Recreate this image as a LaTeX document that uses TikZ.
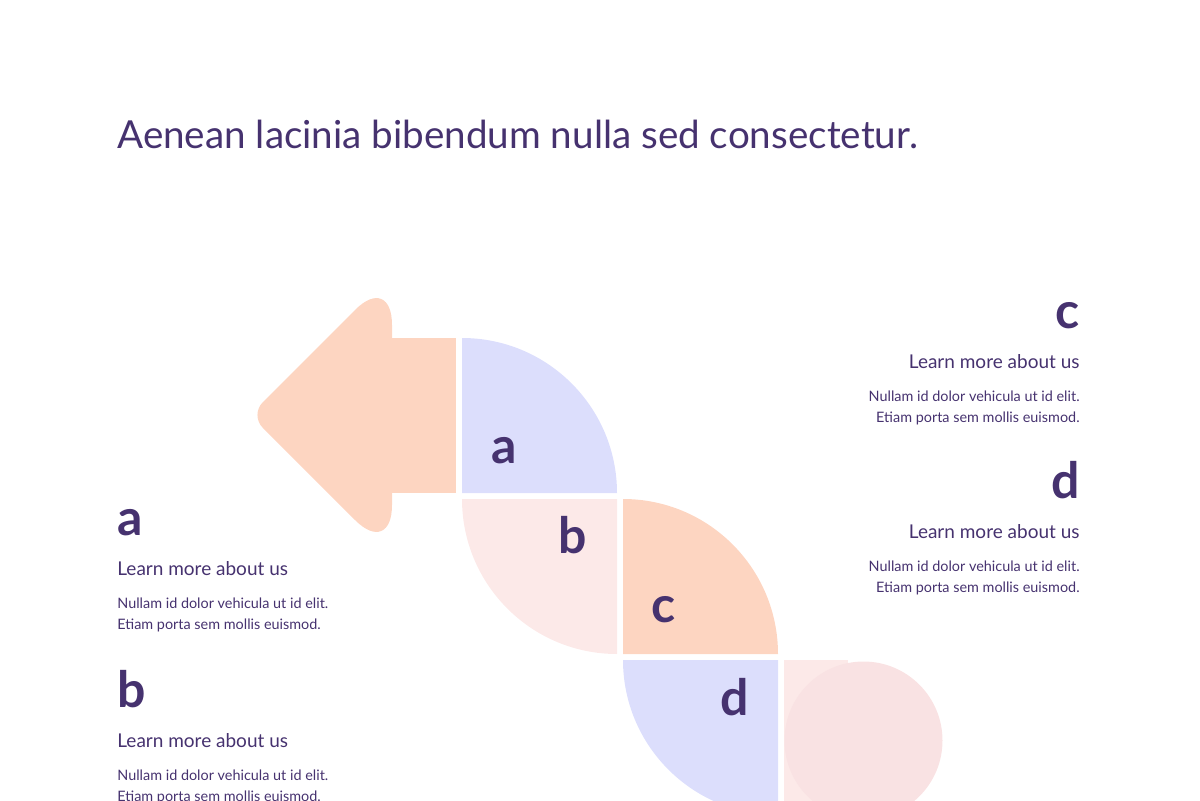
\documentclass[tikz,border=0pt]{standalone}
\usepackage{fontspec}
\setmainfont{Lato}
\usetikzlibrary{calc}

\definecolor{ink}{RGB}{70,50,111}
\definecolor{lavender}{RGB}{220,222,252}
\definecolor{peach}{RGB}{253,213,193}
\definecolor{blush}{RGB}{252,233,232}
\definecolor{rose}{RGB}{249,226,227}

\begin{document}
\begin{tikzpicture}[x=0.5pt, y=0.5pt,
  letter/.style={text=ink, inner sep=0pt, font=\fontsize{25}{30}\selectfont\bfseries},
  learn/.style={text=ink, inner sep=0pt, font=\fontsize{9.5}{11}\selectfont},
  blurb/.style={text=ink, inner sep=0pt, font=\fontsize{7.2}{10.5}\selectfont}]
  \useasboundingbox (0,0) rectangle (1200,800);

  \node[text=ink, inner sep=0pt, anchor=base west, font=\fontsize{19.3}{24}\selectfont] (title) at (117,652) {Aenean lacinia bibendum nulla sed consectetur.};

  % arrow
  \fill[peach] (392,307) rectangle (456,462);
  \fill[peach] (392,385) [rounded corners=26pt] -- (392,527) [rounded corners=9pt] -- (250,385) [rounded corners=26pt] -- (392,243) [sharp corners] -- cycle;

  % quarters
  \fill[lavender] (462,307) -- (462,462) arc (90:0:155) -- cycle;
  \fill[blush] (617,301) -- (617,146) arc (270:180:155) -- cycle;
  \fill[peach] (623,146) -- (623,301) arc (90:0:155) -- cycle;
  \fill[lavender] (778,140) -- (778,-15) arc (270:180:155) -- cycle;
  \fill[blush] (784,-20) rectangle (848,140);
  \fill[rose] (863.5,59.5) circle (79);

  \node[letter, anchor=base] (qa) at (504,337) {a};
  \node[letter, anchor=base] (qb) at (573,247) {b};
  \node[letter, anchor=base] (qc) at (664,178) {c};
  \node[letter, anchor=base] (qd) at (735,85) {d};

  % left column
  \node[letter, anchor=base west] (headA) at (117,265) {a};
  \node[learn, anchor=base west] (learnA) at (117,225) {Learn more about us};
  \node[blurb, anchor=base west, align=left] (textA) at (117,171) {Nullam id dolor vehicula ut id elit.\\Etiam porta sem mollis euismod.};

  \node[letter, anchor=base west] (headB) at (117,93) {b};
  \node[learn, anchor=base west] (learnB) at (117,53) {Learn more about us};
  \node[blurb, anchor=base west, align=left] (textB) at (117,-1) {Nullam id dolor vehicula ut id elit.\\Etiam porta sem mollis euismod.};

  % right column
  \node[letter, anchor=base east] (headC) at (1080,472) {c};
  \node[learn, anchor=base east] (learnC) at (1080,432) {Learn more about us};
  \node[blurb, anchor=base east, align=right] (textC) at (1080,378) {Nullam id dolor vehicula ut id elit.\\Etiam porta sem mollis euismod.};

  \node[letter, anchor=base east] (headD) at (1080,302) {d};
  \node[learn, anchor=base east] (learnD) at (1080,262) {Learn more about us};
  \node[blurb, anchor=base east, align=right] (textD) at (1080,208) {Nullam id dolor vehicula ut id elit.\\Etiam porta sem mollis euismod.};
\end{tikzpicture}
\end{document}
